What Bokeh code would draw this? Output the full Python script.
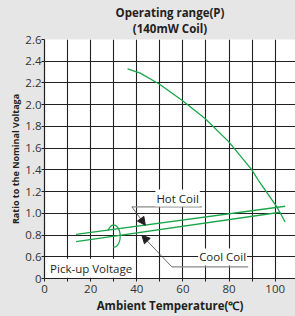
import numpy as np
from bokeh.plotting import figure
from bokeh.models import (Range1d, FixedTicker, Label, Arrow, NormalHead, Title,
                          GlobalInlineStyleSheet)
from bokeh.embed import file_html
from bokeh.resources import INLINE

# ---------------- data (original units) ----------------
x_grid_ticks = [0, 10, 20, 30, 40, 50, 60, 70, 80, 90, 100, 110]
x_tick_labels = {0: "0", 20: "20", 40: "40", 60: "60", 80: "80", 100: "100"}
y_tick_values = [0, 0.6, 0.8, 1.0, 1.2, 1.4, 1.6, 1.8, 2.0, 2.2, 2.4, 2.6]
y_tick_labels = ["0", "0.6", "0.8", "1.0", "1.2", "1.4", "1.6", "1.8", "2.0", "2.2", "2.4", "2.6"]

# operating (upper) limit curve
op_temp = [36.0, 41.5, 49.7, 59.6, 69.7, 79.8, 89.9, 92.8, 100.7, 104.3]
op_ratio = [2.33, 2.29, 2.19, 2.04, 1.87, 1.66, 1.40, 1.30, 1.06, 0.92]

# pick-up voltage lines
hot_temp = [13.7, 104.3]
hot_ratio = [0.806, 1.065]
cool_temp = [13.7, 102.2]
cool_ratio = [0.739, 1.010]

title_lines = ["Operating range(P)", "(140mW Coil)"]
x_title = "Ambient Temperature(\u2103)"
y_title = "Ratio to the Nominal Voltaga"


# broken y axis: 0..0.6 occupies one cell, then 0.2 per cell
def ty(v):
    v = np.asarray(v, dtype=float)
    return np.where(v < 0.6, v / 0.6, (v - 0.4) / 0.2)


GREEN = "#1aa64a"
INK = "#231f20"
BG = "#e6e6e6"
FONT = "Open Sans"

p = figure(width=295, height=316, output_backend="svg", toolbar_location=None,
           x_range=Range1d(0, 108.8), y_range=Range1d(0, 11),
           min_border_left=44, min_border_right=0, min_border_top=39,
           min_border_bottom=38)
p.border_fill_color = BG
p.background_fill_color = "white"
p.outline_line_color = None
p.stylesheets = [GlobalInlineStyleSheet(css="body{background-color:%s;}" % BG)]


def title(text, place, size="11.5px", standoff=0, offset=0):
    p.add_layout(Title(text=text, align="center", text_font=FONT,
                       text_font_size=size, text_font_style="bold",
                       text_color=INK, standoff=standoff, offset=offset), place)


# titles (first added sits closest to the frame)
title(title_lines[1], "above", standoff=8)
title(title_lines[0], "above", standoff=-11)
title(x_title, "below", standoff=0, offset=7)
title(y_title, "left", size="9px", standoff=1)

# grids
y_int = [int(round(float(t))) for t in ty(y_tick_values)]
p.xgrid.ticker = FixedTicker(ticks=x_grid_ticks)
p.ygrid.ticker = FixedTicker(ticks=y_int)
for g in (p.xgrid, p.ygrid):
    g.grid_line_color = INK
    g.grid_line_width = 1.1
    g.grid_line_alpha = 1.0

# axes
p.yaxis.ticker = FixedTicker(ticks=y_int)
p.yaxis.major_label_overrides = {k: lab for k, lab in zip(y_int, y_tick_labels)}
p.xaxis.ticker = FixedTicker(ticks=[t for t in x_grid_ticks if t <= 100])
p.xaxis.major_label_overrides = {t: x_tick_labels.get(t, "") for t in x_grid_ticks if t <= 100}
for ax in (p.xaxis, p.yaxis):
    ax.axis_line_color = INK
    ax.axis_line_width = 1.2
    ax.major_tick_line_color = INK
    ax.major_tick_out = 3
    ax.major_tick_in = 0
    ax.minor_tick_line_color = None
    ax.major_label_text_font = FONT
    ax.major_label_text_font_size = "11.5px"
    ax.major_label_text_color = "#333333"
p.yaxis.major_label_standoff = 0
p.xaxis.major_label_standoff = 3

# curves
p.line(op_temp, ty(op_ratio), line_color=GREEN, line_width=1.3)
p.line(hot_temp, ty(hot_ratio), line_color=GREEN, line_width=1.3)
p.line(cool_temp, ty(cool_ratio), line_color=GREEN, line_width=1.3)

# bracket ellipse around pick-up lines (decoration)
ang = np.linspace(np.deg2rad(150), np.deg2rad(-95), 60)
ex, ey, erx, ery = 30.0, 1.95, 2.8, 0.51
p.line(ex + erx * np.cos(ang), ey + ery * np.sin(ang), line_color=GREEN, line_width=1.3)

# leader lines
p.line([37.9, 68.2], [3.295, 3.295], line_color="#8a8a8a", line_width=1.2)
p.line([55.2, 88.3], [0.534, 0.534], line_color="#8a8a8a", line_width=1.2)
p.add_layout(Arrow(end=NormalHead(size=8, fill_color=INK, line_color=INK),
                   x_start=37.9, y_start=3.295, x_end=43.7, y_end=2.453,
                   line_color="#444444", line_width=0.8))
p.add_layout(Arrow(end=NormalHead(size=8, fill_color=INK, line_color=INK),
                   x_start=55.2, y_start=0.534, x_end=42.2, y_end=1.99,
                   line_color="#444444", line_width=0.8))


def lab(x, y, text, size="11.5px", bg=None, pad=0):
    p.add_layout(Label(x=x, y=y, text=text, text_font=FONT, text_font_size=size,
                       text_color=INK, text_align="center", text_baseline="middle",
                       background_fill_color=bg, padding=pad))


lab(57.7, 3.70, "Hot Coil", bg="white", pad=1)
lab(77.2, 0.99, "Cool Coil", bg="white", pad=1)
lab(20.2, 0.47, "Pick-up Voltage", bg="white", pad=2)

open("out.html", "w").write(file_html(p, INLINE))
